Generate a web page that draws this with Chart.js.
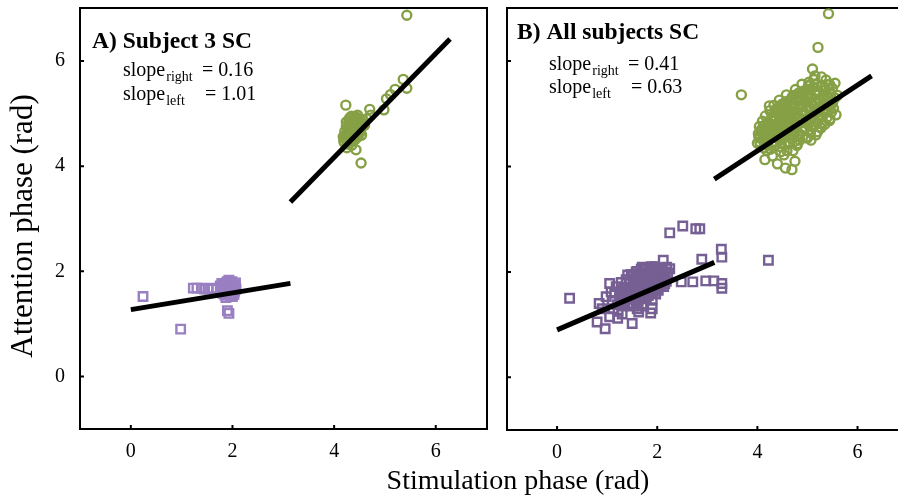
<!DOCTYPE html>
<html>
<head>
<meta charset="utf-8">
<script src="https://cdn.jsdelivr.net/npm/chart.js@4.4.0/dist/chart.umd.min.js"></script>
<style>
  html, body { margin: 0; padding: 0; background: #fff; overflow: hidden; }
  #wrap { position: relative; width: 906px; height: 497px; }
  #left { position: absolute; left: 0; top: 0; }
  #right { position: absolute; left: 495px; top: 0; }
  #xtitle { position: absolute; left: 0; top: 465px; width: 1036px; text-align: center;
    font: 28px 'Liberation Serif', 'Times New Roman', serif; line-height: 30px; color: #000; }
</style>
</head>
<body>
<div id="wrap">
  <canvas id="left" width="495" height="497"></canvas>
  <canvas id="right" width="411" height="497"></canvas>
  <div id="xtitle">Stimulation phase (rad)</div>
</div>
<script>
const tickVals = [0, 2, 4, 6];
const panelTitles = ["A) Subject 3 SC", "B) All subjects SC"];
const slopeRight = ["0.16", "0.41"];
const slopeLeft = ["1.01", "0.63"];

// fitted lines [x, y]
const fitA_green = [[3.14, 3.32], [6.28, 6.42]];
const fitA_purple = [[0.0, 1.27], [3.14, 1.77]];
const fitB_green = [[3.14, 3.76], [6.28, 5.72]];
const fitB_purple = [[0.0, 0.90], [3.14, 2.18]];

// panel A, subject 3
const subjA_green = [
  [5.43,6.87],[4.23,5.16],[4.53,4.06],[4.43,4.31],[4.25,4.35],[4.54,4.59],[4.70,5.08],[4.98,5.07],
  [5.03,5.28],[5.20,5.46],[5.36,5.65],[5.43,5.48],[5.11,5.36],[4.64,4.90],[4.72,4.97],
  [4.30,4.80],[4.35,4.85],[4.40,4.88],[4.45,4.82],[4.50,4.78],[4.55,4.75],[4.28,4.70],[4.33,4.72],
  [4.38,4.75],[4.42,4.70],[4.47,4.68],[4.25,4.62],[4.30,4.60],[4.36,4.64],[4.41,4.58],[4.46,4.62],
  [4.22,4.52],[4.27,4.50],[4.32,4.55],[4.37,4.50],[4.20,4.45],[4.26,4.42],[4.31,4.46],[4.35,4.40],
  [4.39,4.92],[4.34,4.95],[4.48,4.90],[4.52,4.86],[4.58,4.80],[4.29,4.88],[4.24,4.76],[4.21,4.66],
  [4.40,4.66],[4.44,4.76],[4.36,4.82],
  [4.22,4.58],[4.27,4.66],[4.33,4.78],[4.38,4.86],[4.43,4.94],[4.49,4.84],[4.53,4.72],[4.47,4.56],
  [4.41,4.50],[4.34,4.48],[4.28,4.54],[4.24,4.84],[4.31,4.92],[4.46,4.97],[4.56,4.88],[4.60,4.78],
  [4.18,4.56],[4.19,4.48],[4.37,4.68],[4.51,4.64]
];
const subjA_purple = [
  [0.24,1.52],[0.98,0.90],[1.23,1.68],[1.39,1.68],[1.52,1.66],[1.69,1.66],[1.90,1.25],[1.93,1.20],
  [1.76,1.72],[1.82,1.75],[1.88,1.78],[1.95,1.76],[2.02,1.74],[1.80,1.62],[1.86,1.65],[1.92,1.68],
  [1.98,1.66],[2.04,1.62],[1.85,1.55],[1.95,1.58],[2.00,1.52],[1.78,1.70],[1.90,1.80],[1.60,1.68],
  [1.45,1.66],[1.30,1.68],
  [1.79,1.77],[1.84,1.70],[1.89,1.62],[1.94,1.72],[1.99,1.80],[2.04,1.70],[2.06,1.78],[1.81,1.58],
  [1.87,1.50],[1.97,1.54],[2.03,1.56],[1.93,1.83],[1.77,1.65],[2.07,1.66]
];

// panel B, all subjects
const allB_green = [
  [5.42,6.90],[5.21,6.26],[3.68,5.36],[4.24,5.15],[5.10,5.85],[5.55,5.58],[5.37,5.64],[5.57,4.98],
  [4.69,3.94],[4.56,3.97],[4.15,4.13],[4.53,4.22],[4.00,4.44],[5.15,5.72],[5.05,5.55],[5.60,5.35],
  [5.50,5.20],[4.40,4.05],[4.30,4.20],[4.75,4.10],
  [4.05,4.55],[4.08,4.70],[4.10,4.62],[4.12,4.48],[4.14,4.78],[4.16,4.58],[4.18,4.66],[4.20,4.40],
  [4.21,4.85],[4.23,4.52],[4.25,4.72],[4.27,4.60],[4.29,4.95],[4.30,4.45],[4.02,4.62],[4.06,4.42],
  [4.13,4.35],[4.19,4.30],[4.26,4.33],[4.28,4.80],
  [4.32,4.68],[4.34,4.88],[4.36,4.55],[4.38,5.02],[4.40,4.75],[4.42,4.62],[4.44,4.92],[4.46,4.50],
  [4.48,4.82],[4.50,5.08],[4.52,4.68],[4.54,4.96],[4.56,4.58],[4.58,4.85],[4.60,5.12],[4.35,4.40],
  [4.45,4.38],[4.55,4.42],[4.39,5.10],[4.49,5.18],[4.33,4.95],[4.43,4.70],[4.57,4.74],[4.47,4.28],
  [4.59,4.30],
  [4.62,4.72],[4.64,4.95],[4.66,4.60],[4.68,5.05],[4.70,4.82],[4.72,5.20],[4.74,4.66],[4.76,4.98],
  [4.78,5.25],[4.80,4.78],[4.82,5.10],[4.84,4.62],[4.86,4.92],[4.88,5.30],[4.90,4.85],[4.65,4.45],
  [4.75,4.48],[4.85,4.50],[4.63,5.25],[4.73,5.35],[4.83,5.40],[4.67,4.85],[4.79,4.40],[4.71,4.30],
  [4.87,5.15],
  [4.92,5.05],[4.94,4.70],[4.96,5.22],[4.98,4.90],[5.00,5.45],[5.02,4.80],[5.04,5.12],[5.06,4.65],
  [5.08,5.30],[5.10,4.95],[5.12,5.50],[5.14,4.78],[5.16,5.20],[5.18,5.02],[5.20,5.40],[4.93,5.35],
  [5.03,5.60],[5.13,5.65],[4.97,4.55],[5.07,4.50],[5.17,4.60],
  [5.22,4.88],[5.24,5.28],[5.26,5.10],[5.28,5.52],[5.30,4.95],[5.32,5.35],[5.34,5.18],[5.36,5.45],
  [5.38,5.05],[5.40,5.30],[5.42,5.55],[5.44,5.15],[5.46,5.40],[5.48,5.25],[5.50,5.48],[5.52,5.10],
  [5.25,4.75],[5.35,4.80],[5.45,4.90],[5.28,5.70],[5.55,5.30],
  [4.05,4.46],[4.18,4.43],[4.33,4.47],[4.47,4.44],[4.62,4.46],[4.80,4.43],
  [4.03,4.56],[4.15,4.53],[4.27,4.57],[4.41,4.54],[4.53,4.56],[4.68,4.53],[4.84,4.57],[5.00,4.54],
  [4.07,4.66],[4.20,4.63],[4.31,4.67],[4.45,4.64],[4.58,4.66],[4.71,4.63],[4.89,4.67],[5.05,4.64],
  [5.20,4.66],
  [4.04,4.76],[4.17,4.73],[4.29,4.77],[4.42,4.74],[4.55,4.76],[4.66,4.73],[4.78,4.77],[4.92,4.74],
  [5.09,4.76],[5.27,4.73],
  [4.10,4.86],[4.22,4.83],[4.36,4.87],[4.49,4.84],[4.61,4.86],[4.74,4.83],[4.88,4.87],[5.01,4.84],
  [5.15,4.86],[5.31,4.83],[5.44,4.87],
  [4.16,4.96],[4.31,4.93],[4.43,4.97],[4.57,4.94],[4.69,4.96],[4.82,4.93],[4.95,4.97],[5.08,4.94],
  [5.24,4.96],[5.39,4.93],
  [4.25,5.06],[4.40,5.03],[4.52,5.07],[4.64,5.04],[4.77,5.06],[4.90,5.03],[5.03,5.07],[5.19,5.04],
  [5.33,5.06],[5.48,5.03],
  [4.33,5.16],[4.46,5.13],[4.59,5.17],[4.71,5.14],[4.85,5.16],[4.99,5.13],[5.11,5.17],[5.26,5.14],
  [5.41,5.16],
  [4.44,5.26],[4.56,5.23],[4.68,5.27],[4.81,5.24],[4.94,5.26],[5.07,5.23],[5.22,5.27],[5.37,5.24],
  [4.58,5.36],[4.70,5.33],[4.86,5.37],[5.00,5.34],[5.16,5.36],[5.31,5.33],[5.46,5.37],
  [4.76,5.46],[4.91,5.43],[5.06,5.47],[5.21,5.44],[5.35,5.46],
  [4.89,5.56],[5.02,5.53],[5.18,5.57],[5.30,5.54],[5.44,5.56]
];
const allB_purple = [
  [0.25,1.50],[2.25,2.74],[2.51,2.87],[2.77,2.82],[2.85,2.82],[3.28,2.43],[2.89,2.24],[3.29,2.28],
  [4.22,2.22],[3.29,1.78],[3.29,1.69],[2.97,1.83],[3.13,1.83],[2.71,1.81],[2.48,1.81],[2.12,2.22],
  [2.25,2.06],[2.15,1.78],[0.96,0.92],[0.80,1.05],[1.50,1.02],[1.87,1.22],[1.63,1.24],[1.21,1.12],
  [0.84,1.40],[1.05,1.78],[1.41,1.94],[0.98,1.53],[1.05,1.15],[1.30,1.20],[0.90,1.30],
  [1.10,1.45],[1.15,1.60],[1.20,1.38],[1.25,1.52],[1.30,1.68],[1.35,1.45],[1.40,1.60],[1.45,1.78],
  [1.50,1.50],[1.55,1.70],[1.60,1.88],[1.65,1.58],[1.70,1.76],[1.75,1.95],[1.80,1.65],[1.85,1.85],
  [1.90,2.02],[1.95,1.72],[2.00,1.92],[2.05,2.05],[2.10,1.85],[2.15,2.00],[2.20,1.90],[1.12,1.30],
  [1.22,1.25],[1.32,1.35],[1.42,1.40],[1.52,1.35],[1.62,1.45],[1.72,1.50],[1.82,1.55],[1.92,1.60],
  [2.02,1.65],[1.38,1.85],[1.48,1.95],[1.58,2.00],[1.68,2.05],[1.78,2.08],[1.88,2.10],[1.98,2.08],
  [1.28,1.80],[1.18,1.72],[1.08,1.62],[1.55,1.60],[1.65,1.70],[1.75,1.80],[1.85,1.72],[1.95,1.82],
  [1.45,1.55],[1.35,1.58],[2.08,1.75],[1.60,1.30],[1.70,1.35],[1.90,1.30],
  [1.32,1.41],[1.45,1.38],[1.58,1.42],[1.70,1.39],
  [1.28,1.51],[1.40,1.48],[1.53,1.52],[1.66,1.49],[1.78,1.51],[1.90,1.48],
  [1.33,1.61],[1.46,1.58],[1.59,1.62],[1.71,1.59],[1.84,1.61],[1.97,1.58],
  [1.38,1.71],[1.50,1.68],[1.63,1.72],[1.76,1.69],[1.88,1.71],[2.01,1.68],[2.13,1.72],
  [1.44,1.81],[1.56,1.78],[1.69,1.82],[1.81,1.79],[1.93,1.81],[2.06,1.78],[2.18,1.82],
  [1.52,1.91],[1.64,1.88],[1.77,1.92],[1.89,1.89],[2.02,1.91],[2.14,1.88],
  [1.60,2.01],[1.73,1.98],[1.85,2.02],[1.97,1.99],[2.10,2.01],[2.21,1.98],
  [1.70,2.09],[1.83,2.06],[1.95,2.10],[2.07,2.07],[2.19,2.09]
];

const serif = "'Liberation Serif', 'Times New Roman', serif";
const green = "#86a046";

function pts(arr) {
  return arr.map(p => ({ x: p[0], y: p[1] }));
}

function fitLine(arr) {
  return { data: pts(arr), showLine: true, borderColor: "#000", borderWidth: 5,
    pointRadius: 0, borderCapStyle: "butt" };
}

function marks(arr, style, color, r) {
  return { data: pts(arr), pointStyle: style, pointRadius: r, pointBorderWidth: 2.4,
    borderColor: color, backgroundColor: "rgba(0,0,0,0)" };
}

// tick marks point inward, plus panel texts
function deco(cfg) {
  return {
    id: "deco",
    afterDraw(chart) {
      const { ctx, chartArea: a, scales: { x, y } } = chart;
      ctx.save();
      ctx.strokeStyle = "#000";
      ctx.lineWidth = 2;
      ctx.beginPath();
      tickVals.forEach(v => {
        const px = x.getPixelForValue(v);
        ctx.moveTo(px, a.bottom);
        ctx.lineTo(px, a.bottom - 4);
        const py = y.getPixelForValue(v);
        ctx.moveTo(a.left, py);
        ctx.lineTo(a.left + 4, py);
      });
      ctx.stroke();

      ctx.fillStyle = "#000";
      ctx.textBaseline = "alphabetic";
      ctx.textAlign = "left";
      ctx.font = "bold 23.5px " + serif;
      ctx.fillText(panelTitles[cfg.i], cfg.tx, cfg.ty);

      const subs = ["right", "left"];
      const vals = [slopeRight[cfg.i], slopeLeft[cfg.i]];
      const eqOff = [79, 82];
      subs.forEach((s, k) => {
        const by = cfg.sy[k];
        ctx.font = "20px " + serif;
        ctx.fillText("slope", cfg.sx, by);
        const w = ctx.measureText("slope").width;
        ctx.font = "14px " + serif;
        ctx.fillText(s, cfg.sx + w + 1, by + 5);
        ctx.font = "20px " + serif;
        ctx.fillText("= " + vals[k], cfg.sx + eqOff[k], by);
      });

      if (cfg.ytitle) {
        ctx.translate(24, 226);
        ctx.rotate(-Math.PI / 2);
        ctx.textAlign = "center";
        ctx.textBaseline = "middle";
        ctx.font = "31px " + serif;
        ctx.fillText(cfg.ytitle, 0, 0);
      }
      ctx.restore();
    }
  };
}

const frame = { display: true, width: 2, color: "#000" };
const setTicks = s => { s.ticks = tickVals.map(v => ({ value: v })); };

function makeChart(id, cfg) {
  const scales = {
    x: {
      type: "linear", min: -1, max: cfg.xmax,
      afterBuildTicks: setTicks,
      afterFit: s => { s.height = cfg.xh; s.paddingLeft = 0; s.paddingRight = 0; },
      grid: { display: false }, border: frame,
      ticks: { color: "#000", padding: 3, font: { family: serif, size: 20 } }
    },
    y: {
      type: "linear", min: -1, max: 7,
      afterBuildTicks: setTicks,
      afterFit: s => { s.width = cfg.yw; s.paddingTop = 0; s.paddingBottom = 0; },
      grid: { display: false }, border: frame,
      ticks: { display: cfg.yticks, color: "#000", padding: 7, font: { family: serif, size: 20 } }
    },
    x2: {
      type: "linear", position: "top",
      afterFit: s => { s.height = 0; },
      grid: { display: false }, border: frame, ticks: { display: false }
    }
  };
  if (cfg.rightBorder) {
    scales.y2 = {
      type: "linear", position: "right",
      afterFit: s => { s.width = 0; },
      grid: { display: false }, border: frame, ticks: { display: false }
    };
  }
  return new Chart(document.getElementById(id), {
    type: "scatter",
    data: {
      datasets: [
        fitLine(cfg.fitG),
        fitLine(cfg.fitP),
        marks(cfg.green, "circle", green, 4.5),
        marks(cfg.purple, "rect", cfg.pColor, 6)
      ]
    },
    options: {
      responsive: false,
      animation: false,
      events: [],
      layout: { padding: cfg.pad },
      plugins: { legend: { display: false }, tooltip: { enabled: false } },
      scales: scales
    },
    plugins: [deco(cfg)]
  });
}

makeChart("left", {
  i: 0, xmax: 7, xh: 68, yw: 80, yticks: true, rightBorder: true,
  pad: { left: 0, right: 8, top: 8, bottom: 0 },
  fitG: fitA_green, fitP: fitA_purple, green: subjA_green, purple: subjA_purple,
  pColor: "#9a7fc2",
  tx: 92, ty: 48, sx: 123, sy: [76, 100], ytitle: "Attention phase (rad)"
});

makeChart("right", {
  i: 1, xmax: 6.8, xh: 67, yw: 12, yticks: false, rightBorder: false,
  pad: { left: 0, right: 0, top: 8, bottom: 0 },
  fitG: fitB_green, fitP: fitB_purple, green: allB_green, purple: allB_purple,
  pColor: "#765f93",
  tx: 22, ty: 39, sx: 54, sy: [70, 93], ytitle: null
});
</script>
</body>
</html>
